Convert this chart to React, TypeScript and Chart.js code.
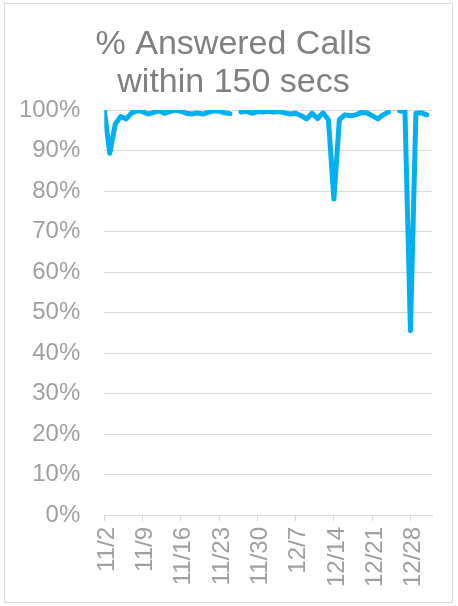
import React, { useEffect, useRef } from "react";
import { Chart, registerables } from "chart.js";

Chart.register(...registerables);

// Daily dates shown on the axis (one slot per day)
const dates: string[] = [
  "11/2", "11/3", "11/4", "11/5", "11/6", "11/7", "11/8", "11/9", "11/10", "11/11",
  "11/12", "11/13", "11/14", "11/15", "11/16", "11/17", "11/18", "11/19", "11/20", "11/21",
  "11/22", "11/23", "11/24", "11/25", "11/26", "11/27", "11/28", "11/29", "11/30", "12/1",
  "12/2", "12/3", "12/4", "12/5", "12/6", "12/7", "12/8", "12/9", "12/10", "12/11",
  "12/12", "12/13", "12/14", "12/15", "12/16", "12/17", "12/18", "12/19", "12/20", "12/21",
  "12/22", "12/23", "12/24", "12/25", "12/26", "12/27", "12/28", "12/29", "12/30", "12/31",
];

// % of calls answered within 150 seconds (null = no data that day)
const answeredPct: (number | null)[] = [
  100, 89.3, 96.5, 98.4, 97.8, 99.3, 99.8, 99.6, 99.0, 99.4,
  99.8, 99.2, 99.6, 100, 99.7, 99.2, 99.0, 99.3, 99.0, 99.4,
  99.8, 99.7, 99.3, 99.1, null, 99.5, 99.7, 99.2, 99.6, 99.5,
  99.7, 99.5, 99.6, 99.3, 99.0, 99.2, 98.6, 97.8, 99.2, 97.9,
  99.3, 97.6, 78.0, 97.6, 98.8, 98.6, 98.8, 99.4, 99.3, 98.6,
  97.8, 98.8, 99.5, null, 99.8, 99.6, 45.5, 99.2, 99.3, 98.8,
];

// Weekly labels on the date axis
const weekLabels: string[] = ["11/2", "11/9", "11/16", "11/23", "11/30", "12/7", "12/14", "12/21", "12/28"];

// Chart title, one entry per line
const titleLines: string[] = ["% Answered Calls", "within 150 secs"];

// Percentage axis
const yMin = 0;
const yMax = 100;
const yStep = 10;

const FONT = "'Liberation Sans', Arial, sans-serif";

// Draws the two-line heading centred over the whole card
const headingPlugin = {
  id: "heading",
  afterDraw(chart: any) {
    const ctx = chart.ctx as CanvasRenderingContext2D;
    ctx.save();
    ctx.fillStyle = "#808080";
    ctx.font = `normal 34px ${FONT}`;
    ctx.textAlign = "center";
    ctx.textBaseline = "middle";
    const cx = chart.width / 2 + 5;
    titleLines.forEach((line, i) => {
      ctx.fillText(line, cx, 41 + i * 38);
    });
    ctx.restore();
  },
};

export default function App() {
  const canvasRef = useRef<HTMLCanvasElement | null>(null);

  useEffect(() => {
    const canvas = canvasRef.current;
    if (!canvas) return;
    const weekDays = weekLabels.map((l) => dates.indexOf(l));
    const points = answeredPct.map((v, i) => ({ x: i, y: v }));

    const chart = new Chart(canvas, {
      type: "line",
      data: {
        datasets: [
          {
            data: points as any,
            borderColor: "#00b0f0",
            backgroundColor: "#00b0f0",
            borderWidth: 5,
            borderCapStyle: "round",
            borderJoinStyle: "round",
            pointRadius: 0,
            pointHoverRadius: 0,
            tension: 0,
            spanGaps: false,
          },
        ],
      },
      options: {
        responsive: false,
        animation: false,
        events: [],
        layout: { padding: { left: 0, right: 19.7, top: 106, bottom: 0 } },
        plugins: {
          legend: { display: false },
          tooltip: { enabled: false },
          title: { display: false },
        },
        scales: {
          x: {
            type: "linear",
            min: 0,
            max: dates.length,
            offset: false,
            afterBuildTicks: (axis: any) => {
              axis.ticks = weekDays.map((v) => ({ value: v }));
            },
            afterFit: (axis: any) => {
              axis.height = 87;
            },
            ticks: {
              autoSkip: false,
              minRotation: 90,
              maxRotation: 90,
              padding: 6,
              labelOffset: 3,
              color: "#a0a0a0",
              font: { family: FONT, size: 24 },
              callback: (value: any) => dates[Number(value)] ?? "",
            },
            grid: {
              drawOnChartArea: false,
              drawTicks: true,
              tickLength: 6,
              color: "#d9d9d9",
              lineWidth: 1,
            },
            border: { display: true, color: "#d9d9d9", width: 1 },
          },
          y: {
            min: yMin,
            max: yMax,
            afterFit: (axis: any) => {
              axis.width = 99.3;
            },
            ticks: {
              stepSize: yStep,
              padding: 24,
              color: "#a0a0a0",
              font: { family: FONT, size: 24 },
              callback: (value: any) => `${value}%`,
            },
            grid: {
              drawTicks: false,
              color: "#d9d9d9",
              lineWidth: 1,
            },
            border: { display: false },
          },
        },
      },
      plugins: [headingPlugin],
    });

    return () => chart.destroy();
  }, []);

  return (
    <div
      style={{
        position: "absolute",
        left: 4,
        top: 3,
        width: 447,
        height: 598,
        border: "1px solid #d9d9d9",
        background: "#ffffff",
      }}
    >
      <canvas
        ref={canvasRef}
        width={447}
        height={598}
        style={{ display: "block" }}
        aria-label={titleLines.join(" ")}
      />
    </div>
  );
}
